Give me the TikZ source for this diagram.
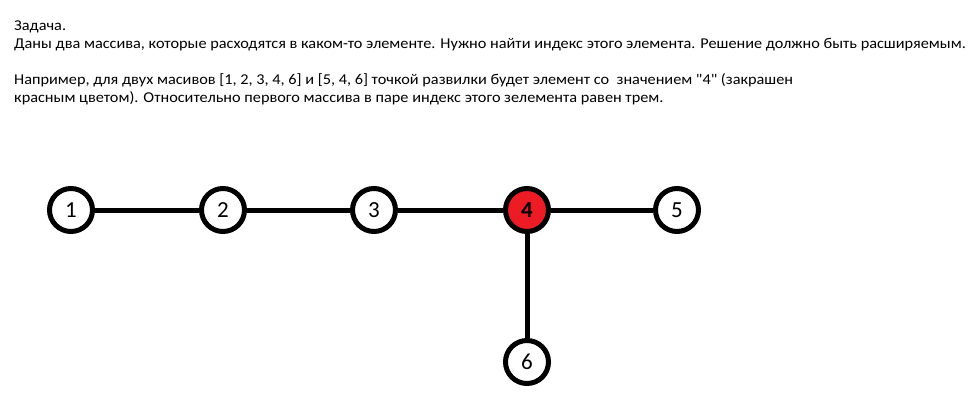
\documentclass[tikz,border=0pt]{standalone}
\usepackage{fontspec}
\setmainfont{Carlito}
\newfontfamily\widefont[FakeStretch=1.085]{Carlito}
\definecolor{paintred}{HTML}{ED1C24}
\begin{document}
\begin{tikzpicture}[x=1pt,y=-1pt,
  txt/.style={anchor=base west,inner sep=0pt,font=\widefont\fontsize{15pt}{18pt}\selectfont},
  vert/.style={circle,draw=black,line width=5pt,fill=white,minimum size=43pt,inner sep=0pt,font=\fontsize{23pt}{23pt}\selectfont},
  edge/.style={line width=5pt}]
\useasboundingbox (0,0) rectangle (980,415);
\node[txt] (t1) at (14,30) {Задача.};
\node[txt] (t2) at (14,48) {Даны два массива, которые расходятся в каком-то элементе. Нужно найти индекс этого элемента. Решение должно быть расширяемым.};
\node[txt] (t3) at (14,84) {Например, для двух масивов [1, 2, 3, 4, 6] и [5, 4, 6] точкой развилки будет элемент со\ \ значением "4" (закрашен};
\node[txt] (t4) at (14,102) {красным цветом). Относительно первого массива в паре индекс этого зелемента равен трем.};
\node[vert] (n1) at (71,210) {1};
\node[vert] (n2) at (223,210) {2};
\node[vert] (n3) at (374,210) {3};
\node[vert,fill=paintred,font=\fontsize{23pt}{23pt}\selectfont\bfseries] (n4) at (527,210) {4};
\node[vert] (n5) at (677,210) {5};
\node[vert] (n6) at (527,362) {6};
\draw[edge] (n1) -- (n2);
\draw[edge] (n2) -- (n3);
\draw[edge] (n3) -- (n4);
\draw[edge] (n4) -- (n5);
\draw[edge] (n4) -- (n6);
\end{tikzpicture}
\end{document}
